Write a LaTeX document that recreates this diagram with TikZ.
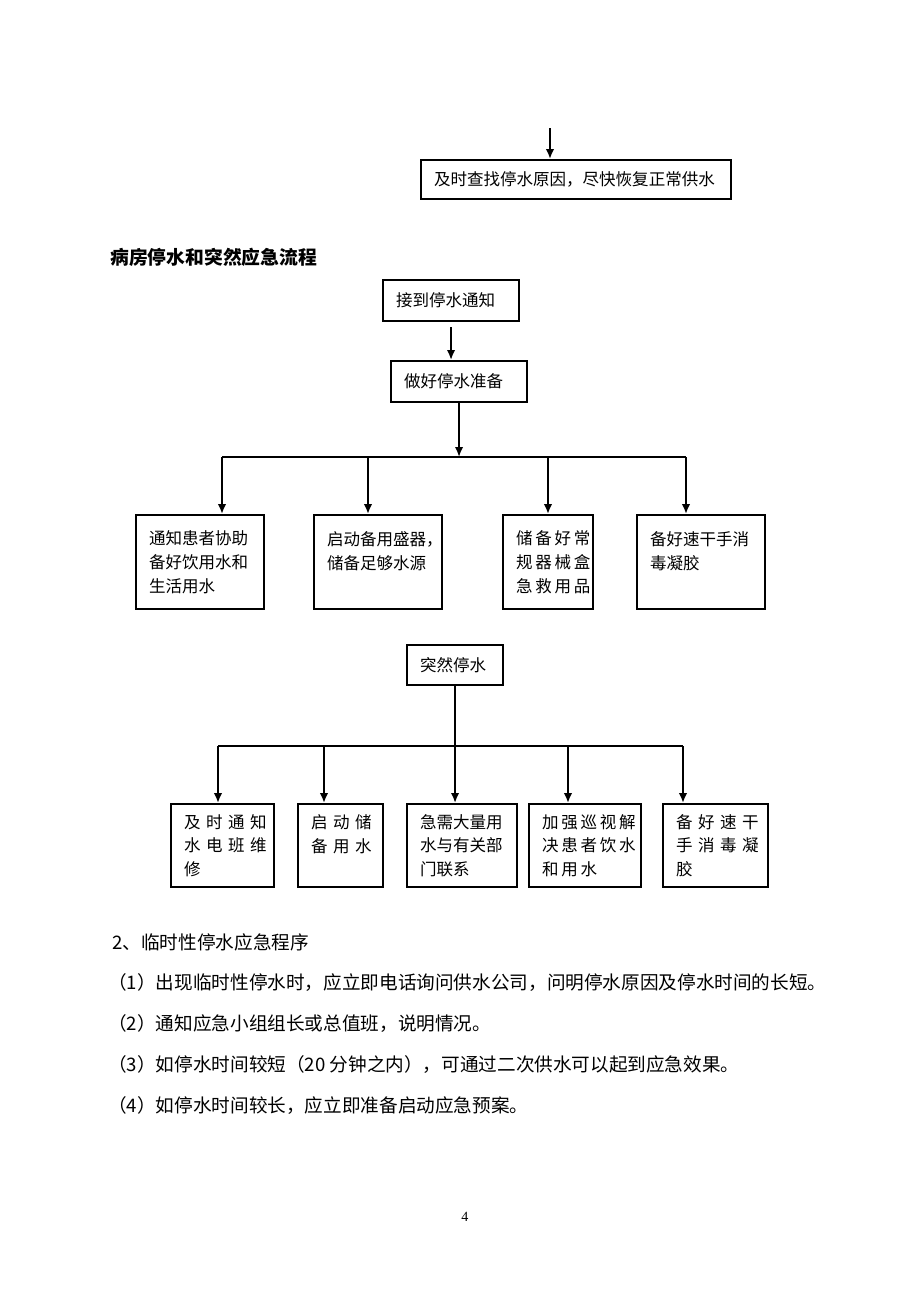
\documentclass[tikz,border=0pt]{standalone}
\usepackage{fontspec}
\setmainfont{Noto Sans CJK SC}
\newfontfamily\pagefont{Liberation Serif}
\usetikzlibrary{arrows.meta}
\hfuzz=30pt
\hbadness=10000

\begin{document}
\begin{tikzpicture}[x=0.02cm, y=-0.02cm,
  flowbox/.style={draw=black, line width=1.2pt, anchor=north west, inner xsep=0.26cm, inner ysep=0pt, align=left, font=\fontsize{9.4pt}{13.5pt}\selectfont},
  txt/.style={anchor=west, inner sep=0pt, font=\fontsize{10.6pt}{13pt}\selectfont},
  link/.style={line width=1.1pt, draw=black},
  >={Latex[length=0.2cm, width=0.17cm]}]
\useasboundingbox (0,0) rectangle (920,1302);
% end of the previous flow
\coordinate (c0) at (550,128);
\node[flowbox, text width=5.68cm, minimum height=0.78cm] (top) at (420,159) {及时查找停水原因，尽快恢复正常供水};
\draw [->, link] (c0) -- (c0 |- top.north);
% title
\node[txt, font=\fontsize{10.7pt}{13pt}\selectfont\bfseries] (title) at (110,257) {病房停水和突然应急流程};
% planned stop
\node[flowbox, text width=2.2cm, minimum height=0.82cm] (jiedao) at (382,279) {接到停水通知};
\node[flowbox, text width=2.2cm, minimum height=0.82cm] (zuohao) at (390,360) {做好停水准备};
\node[flowbox, text width=2.04cm, minimum height=1.88cm] (r1a) at (135,514) {通知患者协助\\备好饮用水和\\生活用水};
\node[flowbox, text width=2.04cm, minimum height=1.88cm] (r1b) at (313,514) {启动备用盛器，\\储备足够水源\\~};
\node[flowbox, text width=1.28cm, minimum height=1.88cm] (r1c) at (502,514) {储\,备\,好\,常\\规\,器\,械\,盒\\急\,救\,用\,品};
\node[flowbox, text width=2.04cm, minimum height=1.88cm] (r1d) at (636,514) {备好速干手消\\毒凝胶\\~};
\coordinate (b1) at (222,457);
\coordinate (b2) at (368,457);
\coordinate (b3) at (548,457);
\coordinate (b4) at (686,457);
\draw [->, link, shorten <=0.1cm] (jiedao.south) -- (jiedao.south |- zuohao.north);
\draw [->, link] (zuohao.south) -- (zuohao.south |- b1);
\draw [link] (b1) -- (b4);
\draw [->, link] (b1) -- (b1 |- r1a.north);
\draw [->, link] (b2) -- (b2 |- r1b.north);
\draw [->, link] (b3) -- (b3 |- r1c.north);
\draw [->, link] (b4) -- (b4 |- r1d.north);
% sudden stop
\node[flowbox, text width=1.4cm, minimum height=0.8cm] (turan) at (406,644) {突然停水};
\node[flowbox, text width=1.54cm, minimum height=1.66cm] (r2a) at (170,803) {及~时~通~知\\水~电~班~维\\修};
\node[flowbox, text width=1.18cm, minimum height=1.66cm] (r2b) at (297,803) {启~动~储\\备~用~水\\~};
\node[flowbox, text width=1.68cm, minimum height=1.66cm] (r2c) at (406,803) {急需大量用\\水与有关部\\门联系};
\node[flowbox, text width=1.72cm, minimum height=1.66cm] (r2d) at (528,803) {加\,强\,巡\,视\,解\\决\,患\,者\,饮\,水\\和\,用\,水};
\node[flowbox, text width=1.58cm, minimum height=1.66cm] (r2e) at (662,803) {备~好~速~干\\手~消~毒~凝\\胶};
\coordinate (d1) at (218,746);
\coordinate (d2) at (324,746);
\coordinate (d4) at (568,746);
\coordinate (d5) at (683,746);
\draw [link] (d1) -- (d5);
\draw [->, link] (turan.south) -- (turan.south |- r2c.north);
\draw [->, link] (d1) -- (d1 |- r2a.north);
\draw [->, link] (d2) -- (d2 |- r2b.north);
\draw [->, link] (d4) -- (d4 |- r2d.north);
\draw [->, link] (d5) -- (d5 |- r2e.north);
% text below
\node[txt] (p0) at (112,942) {2、临时性停水应急程序};
\node[txt] (p1) at (108,983) {（1）出现临时性停水时，应立即电话询问供水公司，问明停水原因及停水时间的长短。};
\node[txt] (p2) at (108,1024) {（2）通知应急小组组长或总值班，说明情况。};
\node[txt] (p3) at (108,1065) {（3）如停水时间较短（20 分钟之内），可通过二次供水可以起到应急效果。};
\node[txt] (p4) at (108,1106) {（4）如停水时间较长，应立即准备启动应急预案。};
\node[inner sep=0pt, font=\pagefont\fontsize{8pt}{9pt}\selectfont] (pg) at (465,1217) {4};
\end{tikzpicture}
\end{document}
